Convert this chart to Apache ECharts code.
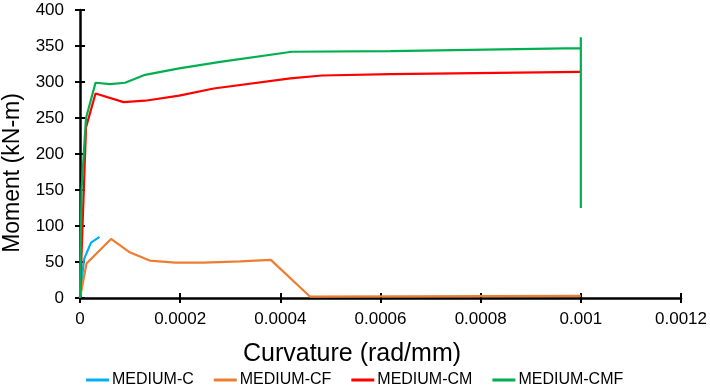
<!DOCTYPE html>
<html><head><meta charset="utf-8">
<script src="https://cdn.jsdelivr.net/npm/echarts@6/dist/echarts.min.js"></script>
<style>html,body{margin:0;padding:0;background:#fff}#c{width:710px;height:389px}</style>
</head><body><div id="c"></div>
<script>
var seriesNames = ['MEDIUM-C', 'MEDIUM-CF', 'MEDIUM-CM', 'MEDIUM-CMF'];
var xTicks = [0, 0.0002, 0.0004, 0.0006, 0.0008, 0.001, 0.0012];
var yTicks = [0, 50, 100, 150, 200, 250, 300, 350, 400];
var xTitle = 'Curvature (rad/mm)';
var yTitle = 'Moment (kN-m)';

var curvC = [0, 0.000008, 0.000022, 0.000039];
var momC  = [0, 54, 77, 85];

var curvCF = [0, 0.000013, 0.000062, 0.000098, 0.000139, 0.00019, 0.000247, 0.00032, 0.000381, 0.000459, 0.001];
var momCF  = [0, 48, 82, 64, 52, 49, 49, 51, 53, 2, 3];

var curvCM = [0, 0.000012, 0.000031, 0.000087, 0.00013, 0.000198, 0.000267, 0.00042, 0.000483, 0.00062, 0.001];
var momCM  = [0, 237, 284, 272, 274, 281, 291, 305, 309, 311, 314];

var curvCMF = [0, 0.000003, 0.000012, 0.000031, 0.00006, 0.00009, 0.00013, 0.000198, 0.00028, 0.000423, 0.00062, 0.001, 0.001, 0.001];
var momCMF  = [0, 150, 250, 299, 297, 299, 310, 319, 328, 342, 343, 347, 362, 125];

var colors = ['#00B0F0', '#ED7D31', '#FF0000', '#00B050'];
function pairs(xs, ys){ return xs.map(function(x,i){ return [x, ys[i]]; }); }
var allData = [pairs(curvC, momC), pairs(curvCF, momCF), pairs(curvCM, momCM), pairs(curvCMF, momCMF)];

var font = '"Liberation Sans", Arial, sans-serif';
var chart = echarts.init(document.getElementById('c'));
var axisLine = {show: true, onZero: false, lineStyle: {color: '#000', width: 2.5}};
function xfmt(v){ return v === 0 ? '0' : String(+v.toFixed(4)); }
chart.setOption({
  animation: false,
  color: colors,
  grid: {left: 80, right: 29, top: 10, bottom: 91, containLabel: false, outerBoundsMode: 'none'},
  xAxis: [{
    type: 'value', min: xTicks[0], max: xTicks[xTicks.length-1], interval: 0.0002,
    axisLine: axisLine, splitLine: {show: false},
    axisTick: {show: true, length: 5, lineStyle: {color: '#000', width: 2}},
    axisLabel: {color: '#000', fontSize: 17, fontFamily: font, margin: 13, formatter: xfmt}
  }, {
    type: 'value', min: xTicks[0], max: xTicks[xTicks.length-1], interval: 0.0002, position: 'bottom',
    axisLine: {show: false}, splitLine: {show: false},
    axisTick: {show: true, inside: true, length: 5, lineStyle: {color: '#000', width: 2}},
    axisLabel: {show: false}
  }],
  yAxis: [{
    type: 'value', min: yTicks[0], max: yTicks[yTicks.length-1], interval: 50,
    axisLine: axisLine, splitLine: {show: false},
    axisTick: {show: true, length: 5, lineStyle: {color: '#000', width: 2}},
    axisLabel: {color: '#000', fontSize: 17, fontFamily: font, margin: 16}
  }, {
    type: 'value', min: yTicks[0], max: yTicks[yTicks.length-1], interval: 50, position: 'left',
    axisLine: {show: false}, splitLine: {show: false},
    axisTick: {show: true, inside: true, length: 5, lineStyle: {color: '#000', width: 2}},
    axisLabel: {show: false}
  }],
  graphic: [
    {type: 'text', x: 352, y: 354, style: {text: xTitle, fill: '#000', fontSize: 25, fontFamily: font, textAlign: 'center', textVerticalAlign: 'middle'}},
    {type: 'text', x: 13, y: 173, rotation: Math.PI / 2, style: {text: yTitle, fill: '#000', fontSize: 23, fontFamily: font, textAlign: 'center', textVerticalAlign: 'middle'}}
  ],
  legend: {
    top: 372, left: 86, padding: 0, itemGap: 20, itemWidth: 23, itemHeight: 3, icon: 'rect',
    textStyle: {color: '#000', fontSize: 16, fontFamily: font, padding: [0,0,0,-2]},
    data: seriesNames
  },
  series: seriesNames.map(function(n, i){
    return {name: n, type: 'line', data: allData[i], showSymbol: false, symbol: 'none',
      lineStyle: {width: 2.2, color: colors[i]}, itemStyle: {color: colors[i]}, z: 2 + i};
  })
});
</script></body></html>
